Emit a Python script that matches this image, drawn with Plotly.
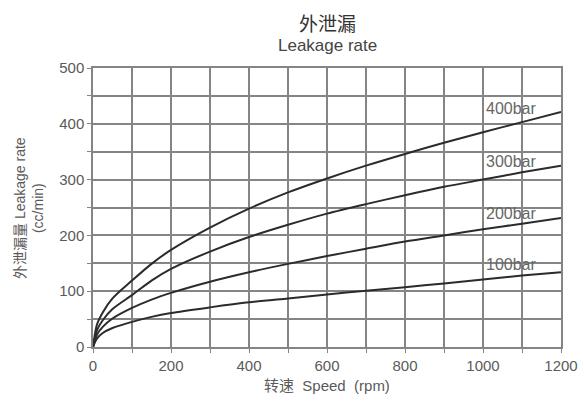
import plotly.graph_objects as go

speed_rpm = [0, 10, 25, 50, 100, 150, 200, 300, 400, 500, 600, 700, 800, 900, 1000, 1100, 1200]
leak_400bar = [0, 40, 62, 87, 119, 149, 174, 214, 248, 277, 302, 325, 346, 366, 385, 403, 421]
leak_300bar = [0, 30, 48, 68, 93, 119, 140, 171, 197, 219, 239, 256, 272, 287, 300, 313, 325]
leak_200bar = [0, 22, 36, 51, 70, 85, 97, 117, 134, 149, 163, 176, 189, 200, 211, 221, 231]
leak_100bar = [0, 15, 25, 34, 45, 54, 61, 71, 80, 87, 94, 101, 107, 114, 121, 128, 134]

series = [
    ("400bar", leak_400bar, 427),
    ("300bar", leak_300bar, 333),
    ("200bar", leak_200bar, 239),
    ("100bar", leak_100bar, 147),
]

font_family = "Liberation Sans, Arial, Noto Sans CJK SC, sans-serif"
grid_col = "#858585"
txt_col = "#5a5a5a"

# plot area in pixels
L, R, T, B = 93, 561, 68, 347
W, H = 584, 401
pw, ph = R - L, B - T

def px_x(p):
    return (p - L) / pw

def px_y(p):
    return (B - p) / ph

fig = go.Figure()
for name, vals, _ in series:
    fig.add_trace(go.Scatter(
        x=speed_rpm, y=vals, mode="lines", name=name,
        line=dict(color="#2b2b2b", width=2, shape="spline", smoothing=0.8),
        showlegend=False, hoverinfo="skip",
    ))

for name, vals, ylab in series:
    fig.add_annotation(
        x=1003, y=ylab, text=name, showarrow=False,
        xanchor="left", yanchor="middle",
        font=dict(family=font_family, size=16, color="#666666"),
    )

# titles
fig.add_annotation(xref="paper", yref="paper", x=0.5, y=px_y(22), text="外泄漏",
                   showarrow=False, xanchor="center", yanchor="middle",
                   font=dict(family="Noto Sans CJK SC, sans-serif", size=19, color="#333333"))
fig.add_annotation(xref="paper", yref="paper", x=0.5, y=px_y(45), text="Leakage rate",
                   showarrow=False, xanchor="center", yanchor="middle",
                   font=dict(family=font_family, size=17, color="#444444"))
fig.add_annotation(xref="paper", yref="paper", x=0.5, y=px_y(386), text="转速  Speed  (rpm)",
                   showarrow=False, xanchor="center", yanchor="middle",
                   font=dict(family=font_family, size=15, color=txt_col))
fig.add_annotation(xref="paper", yref="paper", x=px_x(29), y=px_y(208),
                   text="外泄漏量 Leakage rate<br>(cc/min)", textangle=-90,
                   showarrow=False, xanchor="center", yanchor="middle",
                   font=dict(family=font_family, size=14, color=txt_col))

axis_common = dict(
    showgrid=True, gridcolor=grid_col, gridwidth=1.5,
    showline=True, linecolor=grid_col, linewidth=1.5, mirror=True,
    ticks="outside", ticklen=4, tickcolor=grid_col,
    tickfont=dict(family=font_family, size=15, color=txt_col),
    zeroline=False, automargin=False, fixedrange=True,
)

fig.update_layout(
    width=W, height=H,
    margin=dict(l=L, r=W - R, t=T, b=H - B),
    paper_bgcolor="white", plot_bgcolor="white",
    font=dict(family=font_family, color=txt_col),
    hovermode=False,
    xaxis=dict(
        range=[0, 1200], dtick=200, tick0=0,
        minor=dict(dtick=100, showgrid=True, gridcolor=grid_col, gridwidth=1.5,
                   ticks="outside", ticklen=4, tickcolor=grid_col),
        **axis_common,
    ),
    yaxis=dict(
        range=[0, 500], dtick=100, tick0=0,
        minor=dict(dtick=50, showgrid=True, gridcolor=grid_col, gridwidth=1.5,
                   ticks="outside", ticklen=4, tickcolor=grid_col),
        **axis_common,
    ),
)

fig.write_html(
    "out.html",
    config={"displayModeBar": False},
    post_script="document.body.style.margin='0';document.body.style.overflow='hidden';",
)
